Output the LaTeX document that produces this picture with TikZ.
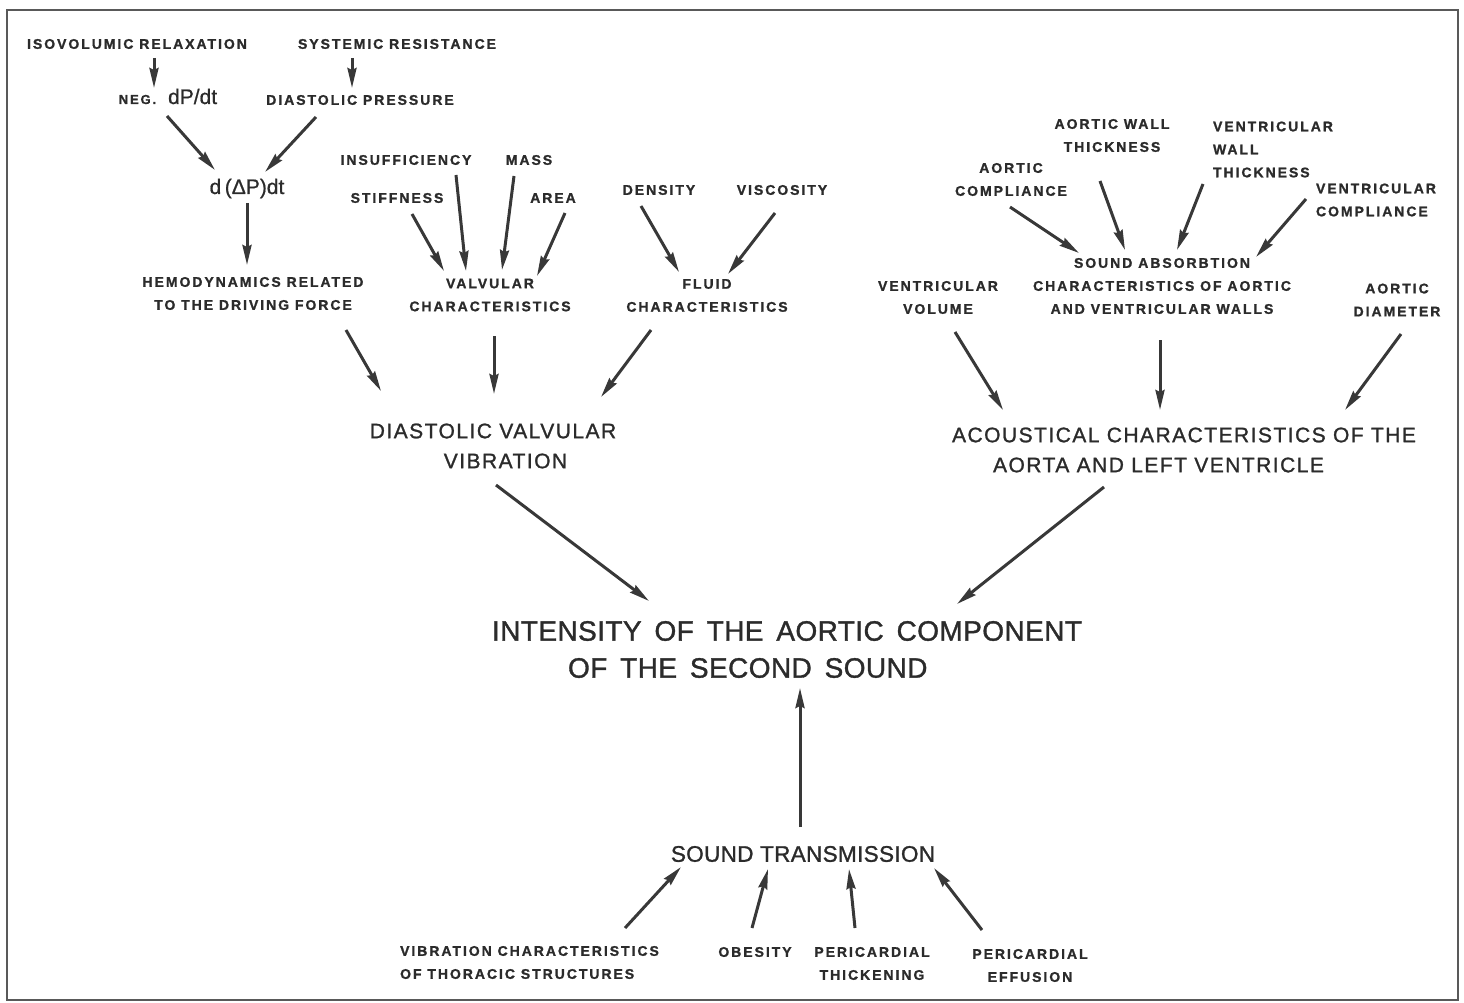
\documentclass[tikz,border=0pt]{standalone}
\usepackage{fontspec}
\setmainfont{Liberation Sans}
\newfontfamily\smf[LetterSpace=14,FakeBold=1.2]{Liberation Sans Bold}
\newfontfamily\mdf[LetterSpace=7,FakeBold=1.2]{Liberation Sans}
\newfontfamily\lgf[LetterSpace=1.5,FakeBold=1.2]{Liberation Sans}
\newfontfamily\dpf[FakeBold=0.8]{Liberation Sans}
\usetikzlibrary{arrows.meta,calc}
\definecolor{ink}{gray}{0.17}
\definecolor{line}{gray}{0.22}
\definecolor{frame}{gray}{0.35}
\tikzset{
  sm/.style={font=\smf\fontsize{14}{23}\selectfont, inner sep=0pt, align=center, text=ink},
  sml/.style={sm, align=left},
  md/.style={font=\mdf\fontsize{21}{30}\selectfont, inner sep=0pt, text=ink},
  lg/.style={font=\lgf\fontsize{28}{37}\selectfont, inner sep=0pt, text=ink},
  st/.style={font=\lgf\fontsize{22.5}{30}\selectfont, inner sep=0pt, align=center, text=ink},
  arr/.style={draw=line, line width=3pt, -{Stealth[length=20pt,width=9pt,inset=2pt]}},
}
\begin{document}
\begin{tikzpicture}[x=1pt,y=-1pt]
\useasboundingbox (0,0) rectangle (1464,1003);
\draw[frame, line width=2.6pt] (7,10) rectangle (1458,1000);

% top-left cluster
\node[sm] (iso) at (137,44) {ISOVOLUMIC RELAXATION};
\node[sm] (sys) at (397,44) {SYSTEMIC RESISTANCE};
\node[inner sep=0pt, anchor=base, text=ink] (neg) at (168,104) {{\smf\fontsize{13}{16}\selectfont NEG.}\hspace{12pt}{\dpf\fontsize{21}{24}\selectfont dP/dt}};
\node[sm] (dia) at (360,100) {DIASTOLIC PRESSURE};
\node[inner sep=0pt, anchor=base, text=ink, font=\dpf\fontsize{21}{24}\selectfont] (ddp) at (247,194) {d\,(ΔP)dt};
\node[sm] (hemo) at (253,293.5) {HEMODYNAMICS RELATED\\TO THE DRIVING FORCE};

% valvular
\node[sm] (insuf) at (406,160) {INSUFFICIENCY};
\node[sm] (mass) at (529,160) {MASS};
\node[sm] (stiff) at (397,198) {STIFFNESS};
\node[sm] (area) at (553,198) {AREA};
\node[sm] (valv) at (490,295) {VALVULAR\\CHARACTERISTICS};

% fluid
\node[sm] (dens) at (659,190) {DENSITY};
\node[sm] (visc) at (782,190) {VISCOSITY};
\node[sm] (fluid) at (707,295.5) {FLUID\\CHARACTERISTICS};

% right cluster
\node[sm] (awt) at (1112,135.5) {AORTIC WALL\\THICKNESS};
\node[sml] (vwt) at (1273,149.5) {VENTRICULAR\\WALL\\THICKNESS};
\node[sm] (acomp) at (1011,179.5) {AORTIC\\COMPLIANCE};
\node[sml] (vcomp) at (1376,200) {VENTRICULAR\\COMPLIANCE};
\node[sm] (sab) at (1162,286) {SOUND ABSORBTION\\CHARACTERISTICS OF AORTIC\\AND VENTRICULAR WALLS};
\node[sm] (vvol) at (938,297.5) {VENTRICULAR\\VOLUME};
\node[sm] (adiam) at (1397,300) {AORTIC\\DIAMETER};

% middle
\node[md, align=left] (dvv) at (493,446) {DIASTOLIC VALVULAR\\\hspace*{74pt}VIBRATION};
\node[md, align=left] (acou) at (1184,450) {ACOUSTICAL CHARACTERISTICS OF THE\\\hspace*{41pt}AORTA AND LEFT VENTRICLE};
\node[lg, align=left] (inten) at (787,649.5) {INTENSITY\, OF\, THE\, AORTIC\, COMPONENT\\\hspace*{76pt}OF\, THE\, SECOND\, SOUND};
\node[st] (st) at (803,854) {SOUND TRANSMISSION};

% bottom
\node[sml] (vibr) at (529.5,962.5) {VIBRATION CHARACTERISTICS\\OF THORACIC STRUCTURES};
\node[sm] (obes) at (755,952) {OBESITY};
\node[sm] (peri) at (872,963.5) {PERICARDIAL\\THICKENING};
\node[sm] (peff) at (1030,965.5) {PERICARDIAL\\EFFUSION};

% connectors
\draw[arr] ($(iso)+(17,14)$) -- ($(neg.base)+(-14,-16)$);
\draw[arr] ($(sys)+(-45,14)$) -- ($(dia)+(-8,-12)$);
\draw[arr] ($(neg.base)+(-1,12)$) -- ($(ddp.base)+(-32,-24)$);
\draw[arr] ($(dia)+(-44,17)$) -- ($(ddp.base)+(18,-22)$);
\draw[arr] ($(ddp.base)+(0,9)$) -- ($(hemo)+(-6,-28.5)$);

\draw[arr] ($(stiff)+(15,16)$) -- ($(valv)+(-46,-24)$);
\draw[arr] ($(insuf)+(50,15)$) -- ($(valv)+(-24,-24)$);
\draw[arr] ($(mass)+(-15,16)$) -- ($(valv)+(12,-25)$);
\draw[arr] ($(area)+(12,15)$) -- ($(valv)+(47,-19)$);

\draw[arr] ($(dens)+(-18,16)$) -- ($(fluid)+(-28,-23.5)$);
\draw[arr] ($(visc)+(-7,23)$) -- ($(fluid)+(21,-21.5)$);

\draw[arr] ($(acomp)+(-1,27.5)$) -- ($(sab)+(-83,-33)$);
\draw[arr] ($(awt)+(-12,45.5)$) -- ($(sab)+(-37,-36)$);
\draw[arr] ($(vwt)+(-70,34.5)$) -- ($(sab)+(15,-36)$);
\draw[arr] ($(vcomp)+(-70,-1)$) -- ($(sab)+(94,-29)$);

\draw[arr] ($(hemo)+(93,36.5)$) -- ($(dvv)+(-112,-55)$);
\draw[arr] ($(valv)+(4,41)$) -- ($(dvv)+(1,-52)$);
\draw[arr] ($(fluid)+(-56,34.5)$) -- ($(dvv)+(108,-49)$);

\draw[arr] ($(vvol)+(17,34.5)$) -- ($(acou)+(-181,-40)$);
\draw[arr] ($(sab)+(-2,54)$) -- ($(acou)+(-24,-40)$);
\draw[arr] ($(adiam)+(4,34)$) -- ($(acou)+(161,-40)$);

\draw[arr] ($(dvv)+(3,39)$) -- ($(inten)+(-138,-48.5)$);
\draw[arr] ($(acou)+(-80,37)$) -- ($(inten)+(170,-45.5)$);
\draw[arr] ($(st)+(-3,-27)$) -- ($(inten)+(13,38.5)$);

\draw[arr] ($(vibr)+(95.5,-34.5)$) -- ($(st)+(-122,13)$);
\draw[arr] ($(obes)+(-3,-24)$) -- ($(st)+(-35,15)$);
\draw[arr] ($(peri)+(-17,-35.5)$) -- ($(st)+(46,15)$);
\draw[arr] ($(peff)+(-48,-35.5)$) -- ($(st)+(131,14)$);
\end{tikzpicture}
\end{document}
